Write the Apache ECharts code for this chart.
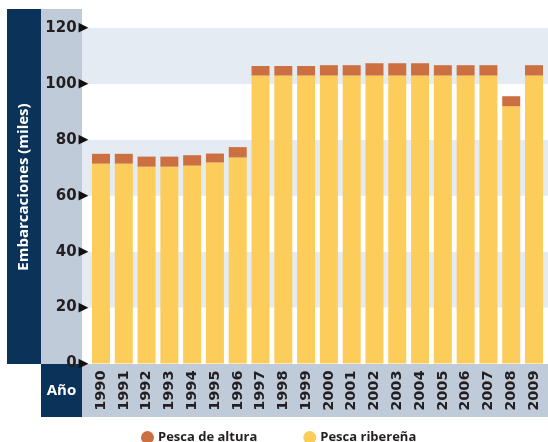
<!DOCTYPE html>
<html><head><meta charset="utf-8">
<script src="https://cdn.jsdelivr.net/npm/echarts@6/dist/echarts.min.js"></script>
<style>html,body{margin:0;padding:0;background:#fff}#c{width:548px;height:442px}</style>
</head><body><div id="c"></div>
<script>
const years = ['1990','1991','1992','1993','1994','1995','1996','1997','1998','1999','2000','2001','2002','2003','2004','2005','2006','2007','2008','2009'];
const ribereña = [71.5,71.5,70.4,70.4,70.8,71.9,73.7,103,103,103,103,103,103,103,103,103,103,103,92,103];
const altura = [3.5,3.5,3.6,3.6,3.7,3.2,3.7,3.4,3.4,3.4,3.7,3.7,4.4,4.4,4.4,3.7,3.7,3.7,3.6,3.7];
const yTicks = [0,20,40,60,80,100,120];
const seriesNames = ['Pesca de altura','Pesca ribereña'];

const NAVY = '#0b3259', STEEL = '#c0cbda', BAND = '#e4ebf2', INK = '#231f20';
const YEL = '#fdcd5b', ORG = '#cd7041';
const chart = echarts.init(document.getElementById('c'), null, {renderer:'canvas'});
chart.setOption({
  animation:false,
  backgroundColor:'#fff',
  graphic:[
    {type:'rect', shape:{x:7,y:9,width:34,height:355}, style:{fill:NAVY}, z:-10},
    {type:'rect', shape:{x:41,y:9,width:41,height:355}, style:{fill:STEEL}, z:-10},
    {type:'rect', shape:{x:41,y:364,width:41,height:53}, style:{fill:NAVY}, z:-10},
    {type:'rect', shape:{x:82,y:364,width:466,height:53}, style:{fill:STEEL}, z:-10},
    {type:'text', x:24, y:187, rotation:Math.PI/2, style:{text:'Embarcaciones (miles)', fill:'#fff', font:'bold 15px "Open Sans"', align:'center', verticalAlign:'middle'}},
    {type:'text', x:61.5, y:391, style:{text:'Año', fill:'#fff', font:'bold 15px "Open Sans"', align:'center', verticalAlign:'middle'}}
  ],
  legend:{
    data:seriesNames, left:136, top:426, itemWidth:13, itemHeight:13, itemGap:46, icon:'circle',
    textStyle:{color:INK, fontFamily:'Open Sans', fontWeight:'bold', fontSize:13, padding:[0,0,0,-1]}
  },
  grid:[
    {left:82, right:0, top:28, bottom:78.5},
    {left:89.6, right:2.6, top:28, bottom:78.5}
  ],
  xAxis:[
    {gridIndex:0, type:'value', show:false, min:0, max:1},
    {gridIndex:1, type:'category', data:years,
      axisLine:{show:false}, axisTick:{show:false},
      axisLabel:{rotate:90, margin:7, color:INK, fontFamily:'DejaVu Sans', fontWeight:'bold', fontSize:14.5, interval:0}}
  ],
  yAxis:[
    {gridIndex:0, type:'value', min:0, max:120, interval:20, axisLabel:{show:false}, axisLine:{show:false}, axisTick:{show:false},
      splitLine:{show:false}, splitArea:{show:true, areaStyle:{color:['#ffffff', BAND]}}},
    {gridIndex:1, type:'value', min:0, max:120, interval:20, axisLine:{show:false}, axisTick:{show:false}, splitLine:{show:false},
      axisLabel:{margin:1, formatter:function(v){return '{v|'+v+'}{t|▶}';},
        rich:{v:{color:INK, fontFamily:'DejaVu Sans', fontWeight:'bold', fontSize:15, padding:[0,2,0,0]},
              t:{color:'#111', fontFamily:'DejaVu Sans', fontSize:13}}}}
  ],
  series:[
    {name:'Pesca ribereña', type:'bar', stack:'s', xAxisIndex:1, yAxisIndex:1, barWidth:18, data:ribereña, itemStyle:{color:YEL}},
    {name:'Pesca de altura', type:'bar', stack:'s', xAxisIndex:1, yAxisIndex:1, barWidth:18, data:altura, itemStyle:{color:ORG}}
  ]
});
</script></body></html>
